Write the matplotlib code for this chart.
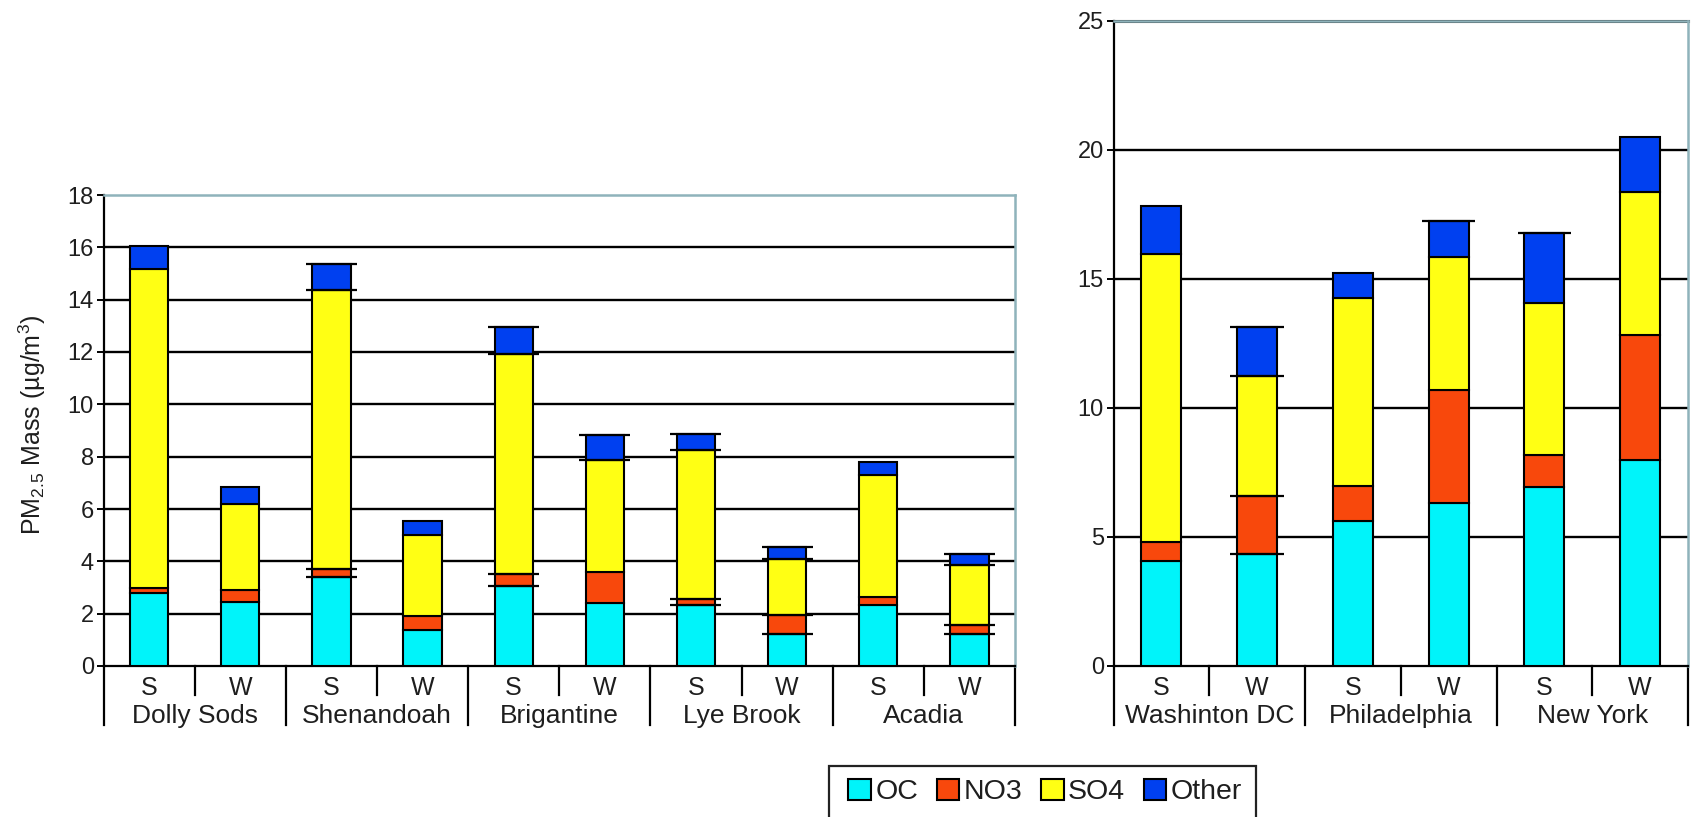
import matplotlib
matplotlib.use("Agg")
import matplotlib.pyplot as plt
from matplotlib.patches import Rectangle, Patch
from matplotlib.lines import Line2D
from matplotlib.transforms import blended_transform_factory

plt.rcParams['font.family'] = ['Liberation Sans', 'DejaVu Sans']
plt.rcParams['mathtext.fontset'] = 'custom'
plt.rcParams['mathtext.rm'] = 'Liberation Sans'
plt.rcParams['mathtext.it'] = 'Liberation Sans:italic'

# ---------------- data ----------------
seasons = ["S", "W"]
rural_sites = ["Dolly Sods", "Shenandoah", "Brigantine", "Lye Brook", "Acadia"]
urban_sites = ["Washinton DC", "Philadelphia", "New York"]
species = ["OC", "NO3", "SO4", "Other"]

# component heights, order: S, W per site
rural_oc    = [2.78, 2.44, 3.41, 1.39, 3.06, 2.41, 2.35, 1.23, 2.35, 1.23]
rural_no3   = [0.22, 0.45, 0.30, 0.52, 0.45, 1.19, 0.20, 0.71, 0.30, 0.34]
rural_so4   = [12.17, 3.31, 10.67, 3.08, 8.43, 4.27, 5.69, 2.15, 4.64, 2.28]
rural_other = [0.89, 0.65, 0.97, 0.56, 1.02, 0.96, 0.61, 0.47, 0.51, 0.43]

urban_oc    = [4.07, 4.34, 5.62, 6.32, 6.94, 8.00]
urban_no3   = [0.73, 2.25, 1.34, 4.38, 1.25, 4.84]
urban_so4   = [11.17, 4.66, 7.31, 5.16, 5.89, 5.51]
urban_other = [1.87, 1.88, 0.97, 1.39, 2.71, 2.16]

# bars whose segment boundaries carry small cap marks: bar index -> segment levels
rural_caps = {2: [0, 1, 2, 3], 4: [0, 1, 2, 3], 5: [2, 3], 6: [0, 1, 2, 3],
              7: [0, 1, 2, 3], 9: [0, 1, 2, 3]}
urban_caps = {1: [0, 1, 2, 3], 3: [3], 4: [3]}

colors = ["#00f4fa", "#f8480c", "#ffff14", "#0040f0"]

W, H = 1691, 817
fig = plt.figure(figsize=(W / 100, H / 100), dpi=100)

def fx(px):
    return px / W

def fy(py):
    return 1 - py / H

TICK_FS = 17
SEASON_FS = 18
GROUP_FS = 19
TXT = "#1e1e1e"
BLUE_GREY = "#8fb3bb"


def draw_panel(ax, sites, oc, no3, so4, other, ymax, ystep, caps, show_top_black):
    n = len(oc)
    x = list(range(n))
    width = 0.42
    layers = [oc, no3, so4, other]
    bottom = [0.0] * n
    for k, (vals, c) in enumerate(zip(layers, colors)):
        ax.bar(x, vals, width=width, bottom=bottom, color=c, edgecolor="black",
               linewidth=1.5, zorder=3)
        bottom = [b + v for b, v in zip(bottom, vals)]
        for i, levels in caps.items():
            if k in levels:
                ax.plot([i - width / 2 - 0.07, i + width / 2 + 0.07], [bottom[i], bottom[i]],
                        color="black", lw=1.6, zorder=4, solid_capstyle="butt")
    ax.set_xlim(-0.5, n - 0.5)
    ax.set_ylim(0, ymax)
    ticks = list(range(0, ymax + 1, ystep))
    ax.set_yticks(ticks)
    ax.set_yticklabels([str(t) for t in ticks], fontsize=TICK_FS, color=TXT)
    ax.tick_params(axis="y", length=5, width=1.4, pad=2, direction="out")
    ax.set_xticks([])
    for t in ticks[1:-1]:
        ax.axhline(t, color="black", lw=1.7, zorder=1)
    if show_top_black:
        ax.axhline(ymax, color="black", lw=2.2, zorder=1, clip_on=False)
    for side in ["top", "right"]:
        ax.spines[side].set_color(BLUE_GREY)
        ax.spines[side].set_linewidth(1.8)
    ax.spines["left"].set_color("black")
    ax.spines["left"].set_linewidth(1.6)
    ax.spines["bottom"].set_color("black")
    ax.spines["bottom"].set_linewidth(1.6)

    tr = blended_transform_factory(ax.transData, fig.transFigure)
    y0 = fy(666)
    for g in range(len(sites)):
        xs = 2 * g + 0.5
        ax.add_line(Line2D([xs, xs], [y0, fy(695)], transform=tr, color="black",
                           lw=1.6, clip_on=False))
    for g in range(len(sites) + 1):
        xs = 2 * g - 0.5
        ax.add_line(Line2D([xs, xs], [y0, fy(725)], transform=tr, color="black",
                           lw=1.6, clip_on=False))
    for i in x:
        ax.text(i, fy(688), seasons[i % 2], transform=tr, ha="center", va="center",
                fontsize=SEASON_FS, color=TXT)
    for g, s in enumerate(sites):
        ax.text(2 * g + 0.5, fy(716), s, transform=tr, ha="center", va="center",
                fontsize=GROUP_FS, color=TXT)


ax1 = fig.add_axes([fx(103.5), fy(666), fx(1015 - 103.5), (666 - 195) / H])
draw_panel(ax1, rural_sites, rural_oc, rural_no3, rural_so4, rural_other, 18, 2,
           rural_caps, False)

ax2 = fig.add_axes([fx(1113.5), fy(666), fx(1688 - 1113.5), (666 - 20.7) / H])
draw_panel(ax2, urban_sites, urban_oc, urban_no3, urban_so4, urban_other, 25, 5,
           urban_caps, True)

fig.text(fx(32), fy(425), "PM$_{2.5}$ Mass (µg/m$^{3}$)", rotation=90,
         ha="center", va="center", fontsize=18, color=TXT)

# legend
handles = [Patch(facecolor=c, edgecolor="black", linewidth=1.5) for c in colors]
leg = fig.legend(handles, species, loc="center", bbox_to_anchor=(fx(1045), fy(792)),
                 ncol=4, frameon=False, fontsize=20.5, handlelength=0.8,
                 handleheight=0.8, handletextpad=0.15, columnspacing=0.65)
for t in leg.get_texts():
    t.set_color(TXT)
fig.patches.append(Rectangle((fx(829), fy(840)), fx(1256 - 829), (840 - 766) / H,
                             transform=fig.transFigure, fill=False, edgecolor="#222222",
                             lw=1.6))

fig.savefig("out.png", dpi=100)
